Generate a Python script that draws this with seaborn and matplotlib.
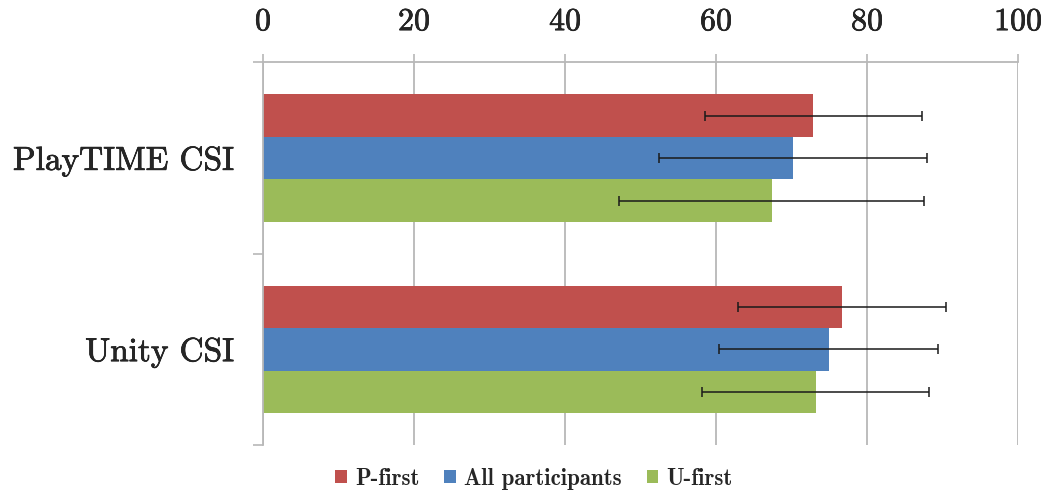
import matplotlib
matplotlib.use("Agg")
import matplotlib.pyplot as plt
import matplotlib.patheffects as pe
from matplotlib.font_manager import FontProperties
import pandas as pd
import seaborn as sns

# Creativity Support Index scores per tool, split by presentation order
categories = ["PlayTIME CSI", "Unity CSI"]
groups = ["P-first", "All participants", "U-first"]
p_first_mean = [72.9, 76.7]
p_first_err = [14.4, 13.8]
all_mean = [70.2, 74.9]
all_err = [17.8, 14.5]
u_first_mean = [67.4, 73.2]
u_first_err = [20.2, 15.0]
x_ticks = [0, 20, 40, 60, 80, 100]

colors = ["#C0504D", "#4F81BD", "#9BBB59"]
grid_grey = "#B8B8B8"

df = pd.DataFrame({
    "measure": categories * 3,
    "group": [g for g in groups for _ in categories],
    "score": p_first_mean + all_mean + u_first_mean,
    "err": p_first_err + all_err + u_first_err,
})

sns.set_style("white")
plt.rcParams["font.family"] = ["cmr10", "DejaVu Serif"]
plt.rcParams["axes.formatter.use_mathtext"] = True

fig = plt.figure(figsize=(10.49, 4.94), dpi=100)
ax = fig.add_axes([0.2507, 0.0992, 0.7198, 0.7743])

sns.barplot(data=df, y="measure", x="score", hue="group",
            order=categories, hue_order=groups, palette=colors,
            orient="h", width=0.667, errorbar=None, saturation=1,
            linewidth=0, ax=ax)

bar_containers = list(ax.containers)

# error bars placed at the centre of each drawn bar
for gi, cont in enumerate(bar_containers):
    xs, ys, es = [], [], []
    for bar in cont.patches:
        yc = bar.get_y() + bar.get_height() / 2
        ci = int(round(yc))
        row = df[(df["group"] == groups[gi]) & (df["measure"] == categories[ci])].iloc[0]
        xs.append(bar.get_width())
        ys.append(yc)
        es.append(row["err"])
    ax.errorbar(xs, ys, xerr=es, fmt="none", ecolor="#1a1a1a",
                elinewidth=1.1, capsize=3.5, capthick=1.1, zorder=5)

ax.set_xlim(0, 100)
ax.set_ylim(1.5, -0.5)
ax.xaxis.tick_top()
ax.set_xticks(x_ticks)
ax.set_xticklabels([str(t) for t in x_ticks])
ax.tick_params(axis="x", direction="out", length=6, width=1.2,
               color=grid_grey, pad=13, labelsize=23, top=True, bottom=False)

ax.set_yticks([0, 1])
ax.set_yticklabels(categories)
ax.tick_params(axis="y", which="major", length=0, pad=21, labelsize=24)
ax.set_yticks([-0.5, 0.5, 1.5], minor=True)
ax.tick_params(axis="y", which="minor", direction="out", length=7,
               width=1.2, color=grid_grey, left=True)

# slightly heavier strokes for the axis labels
heavy = [pe.withStroke(linewidth=0.45, foreground="black")]
for lab in ax.get_xticklabels() + ax.get_yticklabels():
    lab.set_path_effects(heavy)

ax.set_xlabel("")
ax.set_ylabel("")
ax.grid(axis="x", color=grid_grey, lw=1.3)
ax.grid(axis="y", visible=False)
ax.set_axisbelow(True)

for side in ("right", "bottom"):
    ax.spines[side].set_visible(False)
for side in ("top", "left"):
    ax.spines[side].set_color(grid_grey)
    ax.spines[side].set_linewidth(1.3)

leg = ax.get_legend()
if leg is not None:
    leg.remove()
handles = [cont.patches[0] for cont in bar_containers]
fig.legend(handles, groups, loc="center", bbox_to_anchor=(0.509, 0.031),
           ncol=3, frameon=False,
           prop=FontProperties(family="cmb10", size=16.5),
           handlelength=0.5, handleheight=0.5, handletextpad=0.35,
           columnspacing=1.1)

fig.savefig("out.png", dpi=100)
